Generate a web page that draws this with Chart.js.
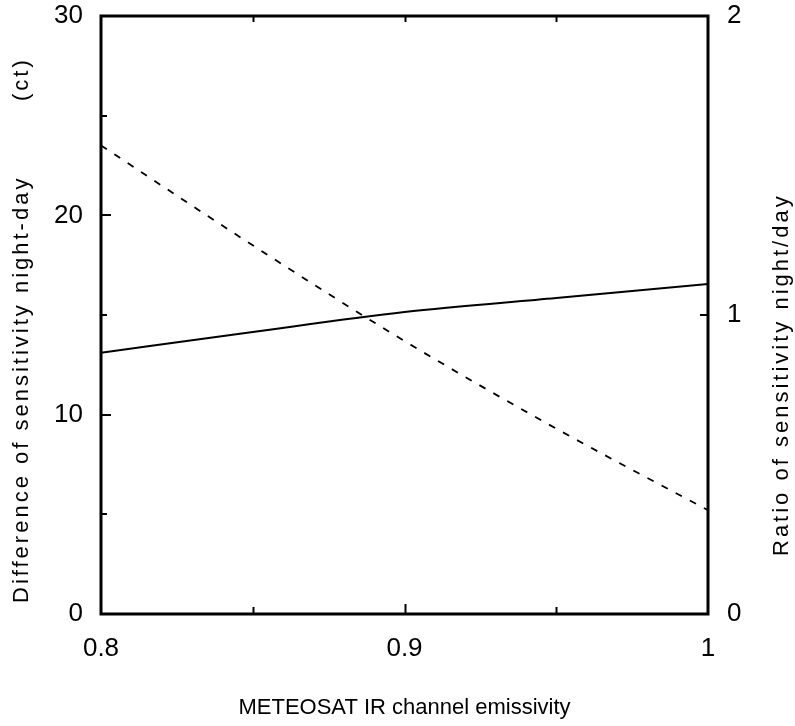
<!DOCTYPE html>
<html>
<head>
<meta charset="utf-8">
<script src="https://cdn.jsdelivr.net/npm/chart.js@4.4.0/dist/chart.umd.min.js"></script>
<style>
  html, body { margin: 0; padding: 0; background: #fff; }
  #wrap { width: 795px; height: 726px; position: relative; }
</style>
</head>
<body>
<div id="wrap"><canvas id="c" width="795" height="726"></canvas></div>
<script>
// Data
const emissivity = [0.8, 0.85, 0.9, 0.95, 1.0];
const differenceCt = [13.1, 14.15, 15.15, 15.85, 16.55];   // solid line, left axis
const ratioNightDay = [1.567, 1.233, 0.913, 0.62, 0.347];   // dashed line, right axis
const xTicks = [0.8, 0.9, 1.0];
const leftTicks = [0, 10, 20, 30];
const rightTicks = [0, 1, 2];
const leftTitle = 'Difference of sensitivity night-day';
const leftTitleUnit = '(ct)';
const rightTitle = 'Ratio of sensitivity night/day';
const xTitle = 'METEOSAT IR channel emissivity';

const FONT = "'Liberation Sans', Arial, sans-serif";

const frameTicks = {
  id: 'frameTicks',
  afterDraw(chart) {
    const ctx = chart.ctx;
    const a = chart.chartArea;
    const x = chart.scales.x, y = chart.scales.y, y1 = chart.scales.y1;
    ctx.save();
    ctx.strokeStyle = '#000';
    ctx.lineWidth = 3;
    ctx.strokeRect(a.left, a.top, a.right - a.left, a.bottom - a.top);
    ctx.lineWidth = 2;
    ctx.beginPath();
    [5, 10, 15, 20, 25].forEach(v => {
      const py = Math.round(y.getPixelForValue(v));
      const len = (v % 10 === 0) ? 10 : 6;
      ctx.moveTo(a.left, py); ctx.lineTo(a.left + len, py);
    });
    [1].forEach(v => {
      const py = Math.round(y1.getPixelForValue(v));
      ctx.moveTo(a.right, py); ctx.lineTo(a.right - 8, py);
    });
    [0.85, 0.9, 0.95].forEach(v => {
      const px = Math.round(x.getPixelForValue(v)) + 0.5;
      const len = (Math.abs(v - 0.9) < 1e-9) ? 10 : 7;
      ctx.moveTo(px, a.bottom); ctx.lineTo(px, a.bottom - len);
      ctx.moveTo(px, a.top); ctx.lineTo(px, a.top + 6);
    });
    ctx.stroke();

    // Vertical axis titles (letter-spaced as in the reference)
    ctx.fillStyle = '#000';
    ctx.font = '22px ' + FONT;
    ctx.textAlign = 'left';
    ctx.textBaseline = 'middle';
    if ('letterSpacing' in ctx) ctx.letterSpacing = '3px';
    const drawUp = (txt, cx, startY) => {
      ctx.save();
      ctx.translate(cx, startY);
      ctx.rotate(-Math.PI / 2);
      ctx.fillText(txt, 0, 0);
      ctx.restore();
    };
    drawUp(leftTitle, 22, 603);
    drawUp(leftTitleUnit, 22, 101);
    drawUp(rightTitle, 782, 556);
    ctx.restore();
  }
};

const noPad = s => { s.paddingTop = 0; s.paddingBottom = 0; s.paddingLeft = 0; s.paddingRight = 0; };

new Chart(document.getElementById('c'), {
  type: 'line',
  data: {
    datasets: [
      {
        label: 'Difference',
        data: emissivity.map((e, i) => ({ x: e, y: differenceCt[i] })),
        yAxisID: 'y',
        borderColor: '#000',
        borderWidth: 2,
        pointRadius: 0,
        cubicInterpolationMode: 'monotone'
      },
      {
        label: 'Ratio',
        data: emissivity.map((e, i) => ({ x: e, y: ratioNightDay[i] })),
        yAxisID: 'y1',
        borderColor: '#000',
        borderWidth: 1.8,
        borderDash: [7, 9],
        pointRadius: 0,
        cubicInterpolationMode: 'monotone'
      }
    ]
  },
  options: {
    responsive: false,
    animation: false,
    devicePixelRatio: 1,
    layout: { padding: { top: 16, left: 0, right: 0, bottom: 0 } },
    plugins: { legend: { display: false }, tooltip: { enabled: false } },
    scales: {
      x: {
        type: 'linear',
        min: 0.8, max: 1.0,
        afterBuildTicks: s => { s.ticks = xTicks.map(v => ({ value: v })); },
        afterFit: s => { s.height = 112; noPad(s); },
        grid: { display: false, drawTicks: false },
        border: { display: false },
        ticks: {
          color: '#000', padding: 19,
          font: { family: FONT, size: 26 },
          callback: v => String(+v.toFixed(2))
        },
        title: {
          display: true, text: xTitle,
          color: '#000', font: { family: FONT, size: 22 },
          padding: { top: 0, bottom: 5 }
        }
      },
      y: {
        position: 'left',
        min: 0, max: 30,
        afterBuildTicks: s => { s.ticks = leftTicks.map(v => ({ value: v })); },
        afterFit: s => { s.width = 101; noPad(s); },
        grid: { display: false, drawTicks: false },
        border: { display: false },
        ticks: { color: '#000', padding: 18, font: { family: FONT, size: 26 } }
      },
      y1: {
        position: 'right',
        min: 0, max: 2,
        afterBuildTicks: s => { s.ticks = rightTicks.map(v => ({ value: v })); },
        afterFit: s => { s.width = 87; noPad(s); },
        grid: { display: false, drawTicks: false },
        border: { display: false },
        ticks: { color: '#000', padding: 19, font: { family: FONT, size: 26 } }
      }
    }
  },
  plugins: [frameTicks]
});
</script>
</body>
</html>
